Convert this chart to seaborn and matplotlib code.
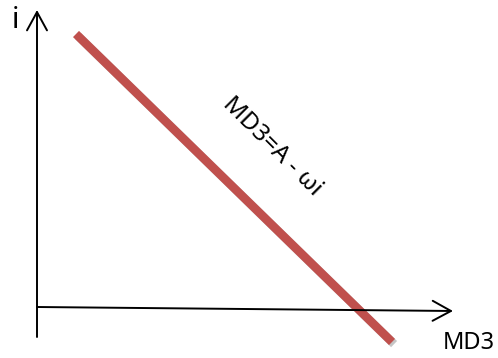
import matplotlib
matplotlib.use("Agg")
import matplotlib.pyplot as plt
import matplotlib.patheffects as pe
import pandas as pd
import seaborn as sns

# ==============================================================================
# DATOS (unidades del esquema, origen en el cruce de los ejes)
# ==============================================================================
md3_values = [39, 355]
i_values = [273, -35]
x_axis_label = "MD3"
y_axis_label = "i"
line_label = "MD3=A - ωi"

LINE_COLOR = "#c0504d"

sns.set_theme(style="white")
plt.rcParams["font.family"] = ["Noto Sans", "DejaVu Sans"]
plt.rcParams["text.color"] = "black"

df = pd.DataFrame({"MD3": md3_values, "i": i_values})

fig = plt.figure(figsize=(4.98, 3.58), dpi=100)
ax = fig.add_axes([0, 0, 1, 1])

# recta con sombra
sns.lineplot(
    data=df, x="MD3", y="i", ax=ax, color=LINE_COLOR, linewidth=6.2,
    solid_capstyle="butt",
    path_effects=[pe.SimpleLineShadow(offset=(1.5, -1.5), shadow_color="gray", alpha=0.45),
                  pe.Normal()],
)

# ejes con flecha
arrow = dict(arrowstyle="->,head_length=1.1,head_width=0.6", color="black", lw=1.4,
             shrinkA=0, shrinkB=0)
ax.annotate("", xy=(416, -4), xytext=(0, 0), arrowprops=arrow)
ax.annotate("", xy=(0, 297), xytext=(0, -30), arrowprops=arrow)

ax.text(-22, 286, y_axis_label, fontsize=21, ha="center", va="center")
ax.text(406, -36, x_axis_label, fontsize=17, ha="left", va="center")
ax.text(235, 160, line_label, fontsize=17.5, rotation=-45, ha="center",
        va="center", rotation_mode="anchor")

ax.set_xlim(-37, 461)
ax.set_ylim(-51, 307)
ax.set_xlabel("")
ax.set_ylabel("")
ax.axis("off")

fig.savefig("out.png", dpi=100)
plt.close(fig)
